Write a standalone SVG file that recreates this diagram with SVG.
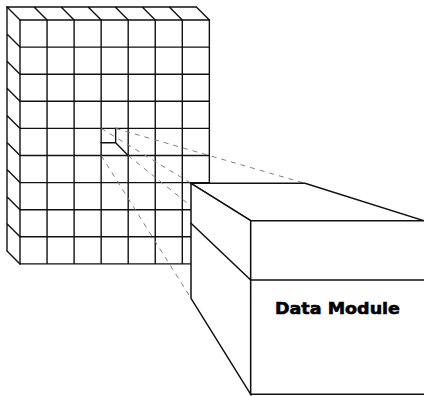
<svg xmlns="http://www.w3.org/2000/svg" width="424" height="396" viewBox="0 0 424 396">
<style>
.ln{fill:none;stroke:#111;stroke-width:1.4;stroke-linecap:square}
.face{fill:#fff;stroke:#111;stroke-width:1.5;stroke-linejoin:miter}
.dash{fill:none;stroke:#808080;stroke-width:1;stroke-dasharray:5 5}
.lbl{font-family:"DejaVu Sans","Liberation Sans",sans-serif;font-weight:bold;font-size:16.5px;fill:#000;stroke:#000;stroke-width:0.6}
</style>
<rect width="424" height="396" fill="#fff"/>
<g id="grid">
<path class="ln" d="M20,20H209.35V263.9H20Z M47.05,20V263.9 M74.1,20V263.9 M101.15,20V263.9 M128.2,20V263.9 M155.25,20V263.9 M182.3,20V263.9 M20,47.1H209.35 M20,74.2H209.35 M20,101.3H209.35 M20,128.4H209.35 M20,155.5H209.35 M20,182.6H209.35 M20,209.7H209.35 M20,236.8H209.35"/>
<path class="ln" d="M7,7H196.35 M20,20L7,7 M47.05,20L34.05,7 M74.1,20L61.1,7 M101.15,20L88.15,7 M128.2,20L115.2,7 M155.25,20L142.25,7 M182.3,20L169.3,7 M209.35,20L196.35,7"/>
<path class="ln" d="M7,7V250.9 M20,47.1L7,34.1 M20,74.2L7,61.2 M20,101.3L7,88.3 M20,128.4L7,115.4 M20,155.5L7,142.5 M20,182.6L7,169.6 M20,209.7L7,196.7 M20,236.8L7,223.8 M20,263.9L7,250.9"/>
<path class="ln" d="M101.15,142.7H115.65V128.4 M115.65,142.7L128.2,155.5"/>
</g>
<g id="connectors">
<line class="dash" x1="115.65" y1="128.4" x2="305" y2="183.3"/>
<line class="dash" x1="101.15" y1="128.4" x2="191" y2="183.3"/>
<line class="dash" x1="101.15" y1="155.5" x2="191" y2="298.3"/>
<line class="dash" x1="128.2" y1="155.5" x2="424" y2="394.3"/>
</g>
<g id="data-module">
<path class="face" d="M191,183.3H305L430,222.6V220.7H250.7Z"/>
<path class="face" d="M191,183.3L250.7,220.7V394.3L191,298.3Z"/>
<path class="face" d="M250.7,220.7H430V394.3H250.7Z"/>
<path class="ln" style="stroke-width:1.5" d="M191,223.3L250.7,280H430"/>
<text class="lbl" x="275" y="314.3" textLength="125" lengthAdjust="spacingAndGlyphs">Data Module</text>
</g>
</svg>
